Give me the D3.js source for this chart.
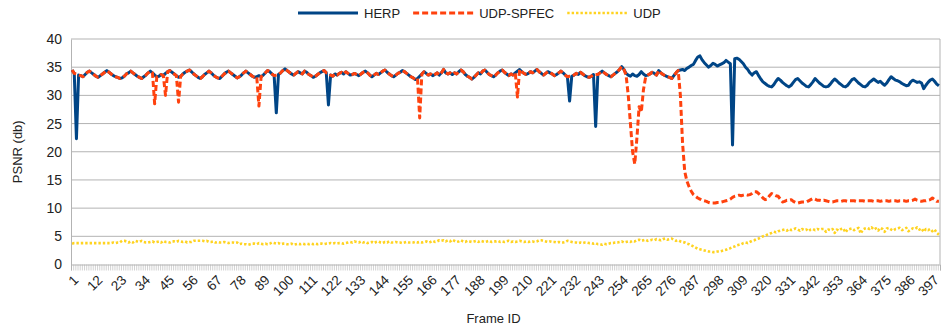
<!DOCTYPE html>
<html>
<head>
<meta charset="utf-8">
<script src="https://cdn.jsdelivr.net/npm/d3@7/dist/d3.min.js"></script>
<style>
body{margin:0;background:#fff}
text{font-family:"Liberation Sans",Arial,sans-serif;fill:#222}
</style>
</head>
<body>
<svg></svg>
<script>
// PSNR per frame (frames 1..400)
var herp=[
34.5,33.9,22.3,33.6,33.5,33.3,33.7,34.1,34.3,34.0,
33.7,33.4,33.2,33.5,33.8,34.1,34.4,34.1,33.8,33.5,
33.3,33.2,33.0,33.1,33.4,33.8,34.0,34.3,34.0,33.7,
33.4,33.2,33.0,33.3,33.6,34.0,34.3,34.0,33.6,33.3,
33.4,33.7,33.5,33.9,34.2,34.4,34.1,33.8,33.5,33.2,
33.4,33.8,34.1,34.3,34.5,34.2,33.8,33.5,33.2,33.0,
33.3,33.7,34.0,34.3,34.0,33.6,33.3,33.1,33.0,33.4,
33.8,34.1,34.3,34.0,33.7,33.4,33.1,33.3,33.6,34.0,
34.3,34.0,33.7,33.4,33.2,33.3,33.5,33.3,33.6,34.0,
34.4,34.2,33.8,33.5,26.9,33.7,34.0,34.4,34.7,34.4,
34.1,33.8,33.6,33.9,34.2,34.0,33.8,34.3,34.1,33.7,
33.5,33.2,33.4,33.7,34.0,34.2,34.4,34.0,28.3,33.6,
33.4,33.8,33.6,33.9,34.1,33.8,34.2,33.9,33.6,33.7,
33.9,33.7,33.5,33.8,34.1,34.3,34.0,33.6,33.3,33.6,
33.9,33.7,34.0,34.3,34.5,34.1,33.8,33.5,33.3,33.6,
33.9,34.1,34.4,34.2,33.9,33.6,33.3,33.1,32.8,33.0,
33.4,33.8,34.2,33.9,33.6,33.8,33.5,33.7,34.0,33.6,
34.0,34.6,34.0,33.8,34.0,33.7,34.0,33.8,34.2,34.5,
34.2,33.7,33.4,33.2,32.9,33.2,33.6,34.0,33.8,34.3,
34.5,34.1,33.7,33.5,33.3,33.6,34.0,34.3,34.5,34.1,
33.8,33.5,33.8,33.6,34.0,34.3,34.6,34.2,33.9,33.7,
33.9,34.2,34.0,34.3,34.6,34.2,33.9,33.6,33.9,34.2,
34.0,33.8,33.5,33.7,34.0,34.3,34.0,33.6,33.3,29.0,
33.4,33.6,33.9,33.7,34.1,33.8,33.5,33.3,33.2,33.4,
33.7,24.5,33.7,34.0,34.3,34.0,33.7,33.5,33.3,33.6,
33.9,34.2,34.6,35.1,34.6,33.9,33.6,33.4,33.8,33.5,
33.4,33.7,34.2,33.8,33.5,33.6,33.8,34.1,33.9,33.6,
34.4,34.0,33.7,33.5,33.3,33.2,33.0,33.5,34.0,34.4,
34.5,34.6,34.4,34.8,35.0,35.3,35.5,36.2,36.8,37.0,
36.3,35.8,35.4,35.0,35.3,35.7,35.5,35.2,35.4,35.6,
35.8,36.2,35.9,35.6,21.2,36.5,36.6,36.4,36.0,35.6,
35.0,34.6,34.0,33.6,34.0,34.2,33.5,32.9,32.4,32.1,
31.8,31.6,31.5,31.9,32.5,33.0,32.7,32.3,32.0,31.7,
31.5,31.8,32.3,32.8,33.0,32.6,32.2,31.9,31.6,31.5,
31.9,32.4,33.0,32.6,32.2,31.9,31.6,31.5,31.6,32.0,
32.5,32.9,32.6,32.2,31.9,31.6,31.5,31.8,32.3,32.8,
33.0,32.6,32.2,31.9,31.6,31.5,31.8,32.3,32.6,32.9,
32.6,32.3,32.5,32.1,31.8,32.2,32.8,33.3,33.0,32.7,
32.6,32.4,32.1,31.9,31.7,31.8,32.4,32.7,32.5,32.3,
32.4,32.2,31.2,31.8,32.3,32.7,32.9,32.5,32.0,31.7
]
var udpSpfec=[
34.5,33.9,33.8,33.6,33.5,33.3,33.7,34.1,34.3,34.0,
33.7,33.4,33.2,33.5,33.8,34.1,34.4,34.1,33.8,33.5,
33.3,33.2,33.0,33.1,33.4,33.8,34.0,34.3,34.0,33.7,
33.4,33.2,33.0,33.3,33.6,34.0,34.3,34.0,28.5,33.3,
33.4,33.7,33.5,30.0,34.2,34.4,34.1,33.8,33.5,28.8,
33.4,33.8,34.1,34.3,34.5,34.2,33.8,33.5,33.2,33.0,
33.3,33.7,34.0,34.3,34.0,33.6,33.3,33.1,33.0,33.4,
33.8,34.1,34.3,34.0,33.7,33.4,33.1,33.3,33.6,34.0,
34.3,34.0,33.7,33.4,33.2,33.3,28.1,33.3,33.6,34.0,
34.4,34.2,33.8,33.5,33.6,33.7,34.0,34.4,34.7,34.4,
34.1,33.8,33.6,33.9,34.2,34.0,33.8,34.3,34.1,33.7,
33.5,33.2,33.4,33.7,34.0,34.2,34.4,34.0,33.9,33.6,
33.4,33.8,33.6,33.9,34.1,33.8,34.2,33.9,33.6,33.7,
33.9,33.7,33.5,33.8,34.1,34.3,34.0,33.6,33.3,33.6,
33.9,33.7,34.0,34.3,34.5,34.1,33.8,33.5,33.3,33.6,
33.9,34.1,34.4,34.2,33.9,33.6,33.3,33.1,32.8,33.0,
26.0,33.8,34.2,33.9,33.6,33.8,33.5,33.7,34.0,33.6,
34.0,34.6,34.0,33.8,34.0,33.7,34.0,33.8,34.2,34.5,
34.2,33.7,33.4,33.2,32.9,33.2,33.6,34.0,33.8,34.3,
34.5,34.1,33.7,33.5,33.3,33.6,34.0,34.3,34.5,34.1,
33.8,33.5,33.8,33.6,34.0,29.7,34.6,34.2,33.9,33.7,
33.9,34.2,34.0,34.3,34.6,34.2,33.9,33.6,33.9,34.2,
34.0,33.8,33.5,33.7,34.0,34.3,34.0,33.6,33.3,33.4,
33.4,33.6,33.9,33.7,34.1,33.8,33.5,33.3,33.2,33.4,
33.7,33.7,33.7,34.0,34.3,34.0,33.7,33.5,33.3,33.6,
33.9,34.2,34.6,35.1,34.6,33.6,30.0,25.0,20.0,17.8,
22.5,28.0,27.0,31.0,33.2,33.6,33.8,34.1,33.9,33.6,
34.4,34.0,33.7,33.5,33.3,33.2,33.0,33.5,34.0,34.4,
30.0,21.5,16.5,14.8,13.8,13.0,12.4,12.1,11.8,11.6,
11.4,11.3,11.2,11.0,10.9,10.9,10.9,11.0,11.0,11.1,
11.2,11.3,11.4,11.6,11.9,12.1,12.2,12.3,12.2,12.3,
12.4,12.3,12.4,12.6,12.9,12.9,12.6,12.2,11.8,11.5,
11.6,12.2,12.6,12.4,12.2,12.1,11.6,11.1,11.2,11.4,
11.4,11.5,11.2,11.0,10.9,11.0,11.1,11.1,11.1,11.3,
11.5,11.7,11.6,11.4,11.4,11.3,11.4,11.3,11.2,11.1,
11.1,11.2,11.3,11.3,11.2,11.3,11.3,11.2,11.3,11.3,
11.3,11.2,11.3,11.3,11.3,11.2,11.3,11.3,11.3,11.2,
11.3,11.3,11.2,11.3,11.3,11.3,11.2,11.3,11.3,11.3,
11.2,11.3,11.3,11.3,11.2,11.3,11.3,11.4,11.6,11.4,
11.3,11.2,11.3,11.3,11.4,11.5,11.8,11.5,11.2,11.2
]
var udp=[
3.7,3.8,3.8,3.8,3.8,3.8,3.8,3.8,3.8,3.8,
3.8,3.8,3.8,3.8,3.8,3.8,3.8,3.8,3.8,3.9,
3.8,3.9,3.9,4.2,4.2,4.1,3.9,4.1,3.9,4.2,
4.1,4.0,4.2,4.0,3.9,3.9,4.0,4.1,3.9,4.0,
4.1,3.9,4.2,4.0,4.0,3.9,4.1,4.1,4.0,4.2,
4.1,4.0,4.1,3.9,4.0,4.0,4.2,4.2,4.2,4.2,
4.2,4.1,4.2,4.0,4.0,4.1,3.9,4.0,3.9,3.9,
4.0,3.9,3.8,3.9,3.9,3.8,3.9,3.6,3.7,3.6,
3.6,3.5,3.6,3.7,3.7,3.6,3.8,3.7,3.6,3.7,
3.6,3.7,3.9,3.8,3.7,3.8,3.6,3.7,3.7,3.6,
3.6,3.7,3.5,3.6,3.7,3.6,3.7,3.6,3.7,3.6,
3.7,3.6,3.7,3.6,3.7,3.7,3.6,3.7,3.7,3.8,
3.7,3.8,3.7,3.8,3.8,3.7,3.8,3.9,4.0,3.9,
4.1,4.0,3.9,4.1,3.9,4.0,3.8,3.9,4.0,3.8,
4.0,4.1,3.9,3.8,4.0,3.9,4.1,3.9,3.9,4.0,
3.9,3.9,3.8,3.9,4.0,3.9,3.9,3.9,4.0,3.9,
4.0,3.9,4.0,4.1,3.9,4.0,4.2,4.0,4.1,4.3,
4.2,4.3,4.1,4.3,4.1,4.4,4.2,4.0,4.1,4.3,
4.1,4.0,4.2,4.1,4.0,4.1,4.2,4.0,4.2,4.1,
4.0,4.1,4.2,4.0,4.1,4.1,4.2,4.0,4.1,4.0,
4.1,4.2,4.0,4.1,4.0,4.1,4.2,4.1,4.0,4.1,
4.0,4.1,4.1,4.0,4.1,4.3,4.3,4.2,4.1,4.0,
4.1,4.0,4.0,3.9,4.0,3.9,3.9,4.0,4.2,4.1,
4.0,3.9,3.9,3.8,3.9,3.8,3.9,3.9,3.8,3.8,
3.7,3.8,3.6,3.6,3.5,3.7,3.6,3.7,3.8,3.8,
3.9,3.9,4.0,4.1,3.9,4.0,4.1,4.0,4.2,4.1,
4.3,4.4,4.2,4.3,4.4,4.2,4.3,4.4,4.3,4.5,
4.4,4.3,4.5,4.6,4.4,4.5,4.6,4.4,4.2,4.3,
4.1,4.0,3.9,3.7,3.6,3.4,3.2,3.0,2.8,2.7,
2.6,2.5,2.4,2.3,2.3,2.2,2.2,2.3,2.3,2.4,
2.5,2.6,2.8,2.9,3.1,3.2,3.4,3.5,3.6,3.8,
3.9,3.8,4.0,4.2,4.3,4.5,4.6,4.8,5.0,5.1,
5.3,5.5,5.6,5.8,5.7,5.9,6.0,6.1,6.2,6.0,
6.3,6.1,6.2,6.4,6.2,6.0,6.3,6.1,6.2,5.9,
6.2,6.3,6.1,6.3,6.2,6.3,6.3,5.8,6.2,6.1,
6.3,5.6,6.2,6.0,6.3,6.4,5.7,6.2,6.3,6.4,
6.1,6.3,6.5,5.5,6.2,6.4,6.5,6.3,6.6,6.2,
6.4,6.0,6.5,6.3,5.8,6.4,6.5,6.2,6.0,6.3,
6.4,6.5,6.1,6.3,6.5,5.9,6.2,6.4,6.3,6.6,
6.2,6.4,5.8,6.3,6.1,6.3,5.9,6.2,5.6,5.3
]
var seriesNames=["HERP","UDP-SPFEC","UDP"]
var seriesColors=["#004586","#ff420e","#ffd320"]
var seriesDash=["none","6,3","2.4,2"]
var seriesWidth=[3,3,2.6]
var xTickLabels=[1,12,23,34,45,56,67,78,89,100,111,122,133,144,155,166,177,188,199,210,221,232,243,254,265,276,287,298,309,320,331,342,353,364,375,386,397]
var yTickLabels=[0,5,10,15,20,25,30,35,40]

var screen={width:943,height:328}
var plot={left:71,right:940,top:39,bottom:264.5}
var frameCount=herp.length

var svg=d3.select("svg")
    .attr("width",screen.width)
    .attr("height",screen.height)

var xScale=d3.scaleLinear()
    .domain([0.5,frameCount+0.5])
    .range([plot.left,plot.right])
var yScale=d3.scaleLinear()
    .domain([0,40])
    .range([plot.bottom,plot.top])

// horizontal grid
svg.append("g")
   .selectAll("line")
   .data(yTickLabels.filter(function(d){return d>0}))
   .enter()
   .append("line")
   .attr("x1",plot.left)
   .attr("x2",plot.right)
   .attr("y1",function(d){return yScale(d)})
   .attr("y2",function(d){return yScale(d)})
   .attr("stroke","#b3b3b3")
   .attr("stroke-width",1)

// right border
svg.append("line")
   .attr("x1",plot.right).attr("x2",plot.right)
   .attr("y1",plot.top).attr("y2",plot.bottom)
   .attr("stroke","#b3b3b3")

// y axis
var yAxis=d3.axisLeft(yScale)
    .tickValues(yTickLabels)
    .tickSize(0)
    .tickPadding(9)
var gy=svg.append("g")
   .attr("transform","translate("+plot.left+",0)")
   .call(yAxis)
gy.select(".domain").attr("stroke","#b3b3b3")
gy.selectAll("text")
  .style("font-size","14px")
  .attr("fill","#222")

// x axis: one tick per frame boundary
var xMinor=d3.axisBottom(xScale)
    .tickValues(d3.range(0.5,frameCount+1,1))
    .tickSize(6)
    .tickFormat("")
var gx=svg.append("g")
   .attr("transform","translate(0,"+plot.bottom+")")
   .call(xMinor)
gx.select(".domain").attr("stroke","#b3b3b3")
gx.selectAll(".tick line").attr("stroke","#b3b3b3").attr("stroke-width",0.6)

svg.append("g")
   .selectAll("text")
   .data(xTickLabels)
   .enter()
   .append("text")
   .attr("transform",function(d){return "translate("+(xScale(d)+4)+","+(plot.bottom+13)+") rotate(-45)"})
   .attr("text-anchor","end")
   .attr("dy","0.35em")
   .style("font-size","13.5px")
   .text(function(d){return d})

// series
var allSeries=[herp,udpSpfec,udp]
var line=d3.line()
    .x(function(d,i){return xScale(i+1)})
    .y(function(d){return yScale(d)})

svg.append("g")
   .selectAll("path")
   .data(allSeries)
   .enter()
   .append("path")
   .attr("d",function(d){return line(d)})
   .attr("fill","none")
   .attr("stroke",function(d,i){return seriesColors[i]})
   .attr("stroke-width",function(d,i){return seriesWidth[i]})
   .attr("stroke-dasharray",function(d,i){return seriesDash[i]})
   .attr("stroke-linejoin","round")

// axis titles
svg.append("text")
   .attr("x",(plot.left+plot.right)/2-12)
   .attr("y",323)
   .attr("text-anchor","middle")
   .style("font-size","13px")
   .text("Frame ID")
svg.append("text")
   .attr("transform","translate(22,"+((plot.top+plot.bottom)/2)+") rotate(-90)")
   .attr("text-anchor","middle")
   .style("font-size","13px")
   .text("PSNR (db)")

// legend
var legend=svg.append("g")
var lx=298
seriesNames.forEach(function(name,i){
    legend.append("line")
      .attr("x1",lx).attr("x2",lx+60)
      .attr("y1",13).attr("y2",13)
      .attr("stroke",seriesColors[i])
      .attr("stroke-width",seriesWidth[i])
      .attr("stroke-dasharray",seriesDash[i])
    var t=legend.append("text")
      .attr("x",lx+66)
      .attr("y",13)
      .attr("dy","0.35em")
      .style("font-size","13px")
      .text(name)
    lx=lx+66+t.node().getComputedTextLength()+13
})
</script>
</body>
</html>
